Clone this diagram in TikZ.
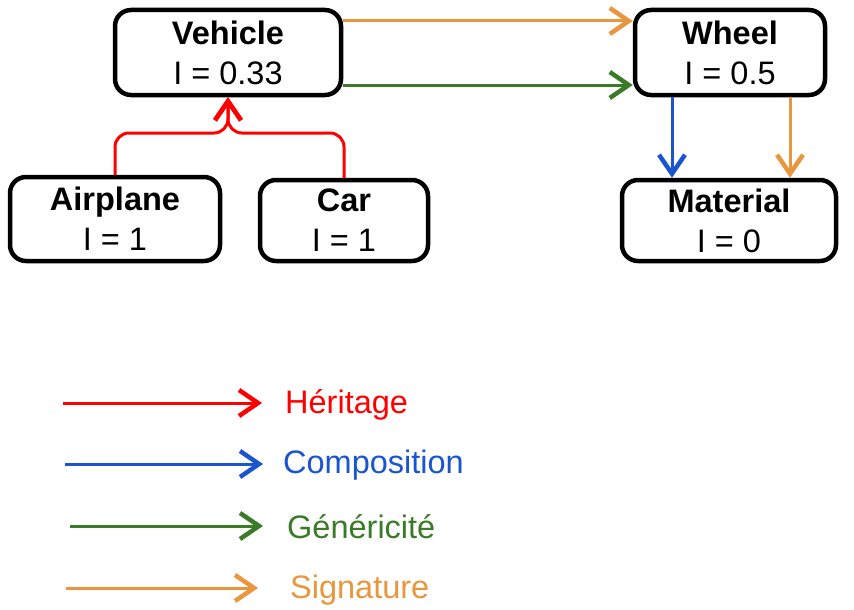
\documentclass[tikz,border=0pt]{standalone}
\usepackage{fontspec}
\setmainfont{Liberation Sans}
\usetikzlibrary{arrows.meta}
\definecolor{cred}{HTML}{FF0000}
\definecolor{cblue}{HTML}{1A55CF}
\definecolor{cgreen}{HTML}{3B7A27}
\definecolor{corange}{HTML}{E8973E}
\begin{document}
\begin{tikzpicture}[x=1pt,y=-1pt,
  cls/.style={draw=black, line width=4.5pt, rounded corners=16pt, align=center, inner sep=0pt, font=\fontsize{32.5}{40}\selectfont},
  conn/.style={line width=3pt, -{Straight Barb[length=19pt,width=26pt,line width=4.5pt]}},
  leg/.style={font=\fontsize{32.5}{37}\selectfont, anchor=base west, inner sep=0pt}]
\useasboundingbox[fill=white] (0,0) rectangle (854,610);
\node[cls, minimum width=226pt, minimum height=85pt] (veh) at (228,52.5) {\textbf{Vehicle}\\I = 0.33};
\node[cls, minimum width=210pt, minimum height=84pt] (air) at (115,219) {\textbf{Airplane}\\I = 1};
\node[cls, minimum width=168pt, minimum height=81pt] (car) at (344,220.5) {\textbf{Car}\\I = 1};
\node[cls, minimum width=190pt, minimum height=85pt] (whl) at (730,52.5) {\textbf{Wheel}\\I = 0.5};
\node[cls, minimum width=214pt, minimum height=81pt] (mat) at (729,220.5) {\textbf{Material}\\I = 0};
% connectors
\draw[conn, corange] (veh.east |- 0,21) -- (whl.west |- 0,21);
\draw[conn, cgreen] (veh.east |- 0,85) -- (whl.west |- 0,85);
\draw[conn, cblue] (whl.south -| 672,0) -- (mat.north -| 672,0);
\draw[conn, corange] (whl.south -| 790,0) -- (mat.north -| 790,0);
\draw[conn, cred, rounded corners=14pt] (air.north) |- (veh.south |- 0,133) -- (veh.south);
\draw[conn, cred, rounded corners=14pt] (car.north) |- (veh.south |- 0,133) -- (veh.south);
% legend
\coordinate (h0) at (63,403); \coordinate (h1) at (262,403);
\coordinate (c0) at (65,464); \coordinate (c1) at (263,464);
\coordinate (g0) at (70,526); \coordinate (g1) at (263,526);
\coordinate (s0) at (66,588); \coordinate (s1) at (258,588);
\draw[conn, cred] (h0) -- (h1);
\draw[conn, cblue] (c0) -- (c1);
\draw[conn, cgreen] (g0) -- (g1);
\draw[conn, corange] (s0) -- (s1);
\node[leg, text=cred] (lh) at (285,413) {Héritage};
\node[leg, text=cblue] (lc) at (283,473) {Composition};
\node[leg, text=cgreen] (lg) at (287,538) {Généricité};
\node[leg, text=corange] (ls) at (290,598) {Signature};
\end{tikzpicture}
\end{document}
